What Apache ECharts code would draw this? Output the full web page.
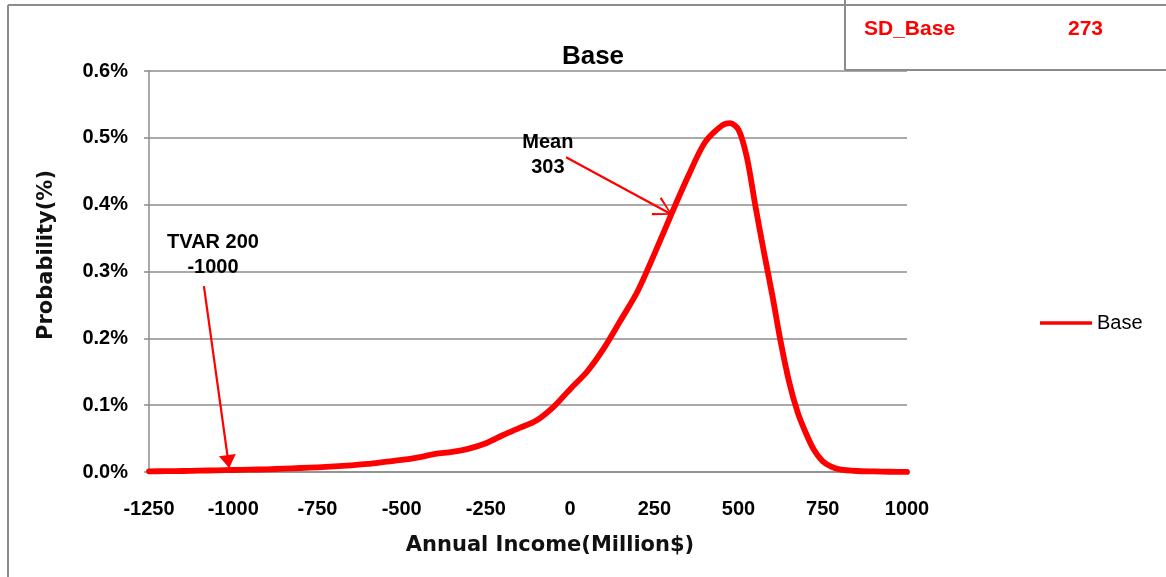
<!DOCTYPE html>
<html>
<head>
<meta charset="utf-8">
<script src="https://cdn.jsdelivr.net/npm/echarts@6/dist/echarts.min.js"></script>
<style>
  html, body { margin: 0; padding: 0; background: #ffffff; }
  #chart { width: 1166px; height: 577px; }
</style>
</head>
<body>
<div id="chart"></div>
<script>
// Annual income (Million$) and probability density (%) of the Base scenario
const incomes = [-1250, -1200, -1150, -1100, -1050, -1000, -950, -900, -850, -800,
  -750, -700, -650, -600, -550, -500, -450, -400, -350, -300,
  -250, -200, -150, -100, -50, 0, 50, 100, 150, 200,
  250, 300, 350, 400, 450, 475, 500, 525, 550, 575,
  600, 625, 650, 675, 700, 725, 750, 775, 800, 850,
  900, 950, 1000];
const baseProb = [0.001, 0.0012, 0.0015, 0.002, 0.0025, 0.003, 0.0035, 0.004, 0.005, 0.006,
  0.007, 0.0085, 0.010, 0.012, 0.015, 0.018, 0.022, 0.027, 0.030, 0.035,
  0.043, 0.055, 0.066, 0.077, 0.097, 0.124, 0.150, 0.185, 0.227, 0.270,
  0.326, 0.385, 0.442, 0.493, 0.518, 0.522, 0.512, 0.470, 0.398, 0.330,
  0.265, 0.195, 0.135, 0.090, 0.058, 0.032, 0.016, 0.008, 0.004, 0.0015,
  0.0008, 0.0004, 0.0002];

// Summary statistics
const meanIncome = 303;
const meanProb = 0.385;
const tvarLevel = 200;
const tvarIncome = -1000;
const tvarProb = 0.006;
const sdBase = 273;

// Axis ticks
const xTicks = { min: -1250, max: 1000, step: 250 };
const yTicks = { min: 0, max: 0.6, step: 0.1 };

const FONT = 'Liberation Sans, Arial, sans-serif';
const GRID_COLOR = '#8c8c8c';
const RED = '#ff0000';

const chart = echarts.init(document.getElementById('chart'), null, { renderer: 'canvas' });

// Pointer heads, tip at the origin pointing up; the trailing empty sub-path
// mirrors the bounding box so the tip sits on the line's end point.
const openArrow = 'path://M0,0 L10.2,17.6 L8.2,18.6 L0,2.8 L-8.2,18.6 L-10.2,17.6 Z M0,-18.6 L0,-18.6 Z';
const solidArrow = 'path://M0,0 L8.5,13 L-8.5,13 Z M0,-13 L0,-13 Z';

chart.setOption({
  backgroundColor: '#ffffff',
  animation: false,
  title: {
    text: 'Base',
    left: 588,
    top: 39,
    textAlign: 'center',
    textStyle: { fontFamily: FONT, fontSize: 26, fontWeight: 'bold', color: '#000' }
  },
  legend: {
    data: ['Base'],
    left: 1040,
    top: 313,
    padding: 0,
    itemWidth: 52,
    itemHeight: 14,
    itemGap: 5,
    icon: 'path://M0,5.5 L52,5.5 L52,9 L0,9 Z',
    textStyle: { fontFamily: FONT, fontSize: 20, color: '#000' }
  },
  grid: { left: 149, right: 259, top: 71, bottom: 105, containLabel: false },
  xAxis: {
    type: 'value',
    min: xTicks.min,
    max: xTicks.max,
    interval: xTicks.step,
    axisLine: { show: true, onZero: false, lineStyle: { color: GRID_COLOR, width: 1.5 } },
    axisTick: { show: false },
    splitLine: { show: false },
    axisLabel: {
      margin: 27,
      fontFamily: FONT, fontSize: 20, fontWeight: 'bold', color: '#000',
      formatter: v => String(v)
    }
  },
  yAxis: {
    type: 'value',
    min: yTicks.min,
    max: yTicks.max,
    interval: yTicks.step,
    axisLine: { show: true, onZero: false, lineStyle: { color: GRID_COLOR, width: 1.5 } },
    axisTick: { show: true, inside: false, length: 5, lineStyle: { color: GRID_COLOR, width: 1.5 } },
    splitLine: { show: true, lineStyle: { color: GRID_COLOR, width: 1.5 } },
    axisLabel: {
      margin: 21,
      fontFamily: FONT, fontSize: 20, fontWeight: 'bold', color: '#000',
      formatter: v => v.toFixed(1) + '%'
    }
  },
  series: [{
    name: 'Base',
    type: 'line',
    data: incomes.map((x, i) => [x, baseProb[i]]),
    smooth: 0.3,
    showSymbol: false,
    symbol: 'none',
    lineStyle: { color: RED, width: 5.8, cap: 'round', join: 'round' },
    itemStyle: { color: RED },
    markLine: {
      silent: true,
      animation: false,
      label: { show: false },
      lineStyle: { color: RED, width: 2.2, type: 'solid' },
      data: [
        [
          { coord: [-12, 0.471], symbol: 'none' },
          { coord: [meanIncome, meanProb], symbol: openArrow, symbolSize: [20.4, 37.2] }
        ],
        [
          { coord: [-1087, 0.278], symbol: 'none' },
          { coord: [tvarIncome - 12, tvarProb], symbol: solidArrow, symbolSize: [17, 26] }
        ]
      ]
    },
    markPoint: {
      silent: true,
      symbol: 'circle',
      symbolSize: 0,
      label: {
        show: true,
        position: 'inside',
        fontFamily: FONT, fontSize: 20, fontWeight: 'bold', color: '#000',
        lineHeight: 25, align: 'center'
      },
      data: [
        { coord: [-66, 0.474], label: { formatter: 'Mean\n' + meanIncome } },
        { coord: [-1060, 0.325], label: { formatter: 'TVAR ' + tvarLevel + '\n' + tvarIncome } }
      ]
    }
  }],
  graphic: [
    // chart frame
    { type: 'line', shape: { x1: 8, y1: 5, x2: 1166, y2: 5 }, style: { stroke: GRID_COLOR, lineWidth: 2 } },
    { type: 'line', shape: { x1: 8, y1: 5, x2: 8, y2: 577 }, style: { stroke: GRID_COLOR, lineWidth: 2 } },
    // standard deviation box
    { type: 'line', shape: { x1: 845, y1: 0, x2: 845, y2: 70 }, style: { stroke: GRID_COLOR, lineWidth: 2 } },
    { type: 'line', shape: { x1: 845, y1: 70, x2: 1166, y2: 70 }, style: { stroke: GRID_COLOR, lineWidth: 2 } },
    { type: 'text', left: 864, top: 19,
      style: { text: 'SD_Base', fill: RED, font: 'bold 21px ' + FONT } },
    { type: 'text', left: 1068, top: 19,
      style: { text: String(sdBase), fill: RED, font: 'bold 21px ' + FONT } },
    // axis titles
    { type: 'text', x: 550, y: 546,
      style: { text: 'Annual Income(Million$)', fill: '#111', font: 'bold 21px DejaVu Sans, sans-serif',
        align: 'center', verticalAlign: 'middle', shadowColor: 'rgba(0,0,0,0.45)', shadowBlur: 2 } },
    { type: 'text', x: 47, y: 255, rotation: Math.PI / 2,
      style: { text: 'Probability(%)', fill: '#111', font: 'bold 21px DejaVu Sans, sans-serif',
        align: 'center', verticalAlign: 'middle', shadowColor: 'rgba(0,0,0,0.45)', shadowBlur: 2 } }
  ]
});
</script>
</body>
</html>
